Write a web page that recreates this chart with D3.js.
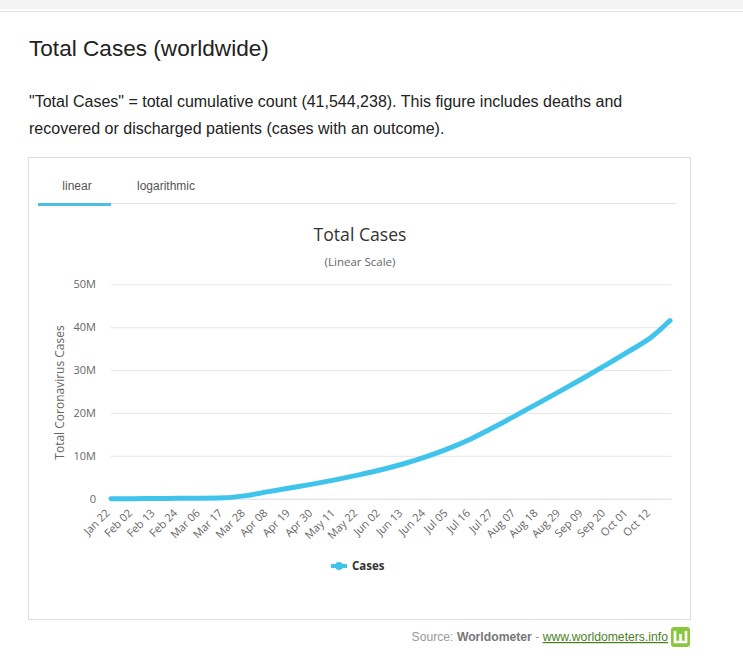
<!DOCTYPE html>
<html>
<head>
<meta charset="utf-8">
<title>Total Cases (worldwide)</title>
<script src="https://cdn.jsdelivr.net/npm/d3@7"></script>
<style>
  body { margin: 0; background: #fff; }
  #page { width: 743px; height: 659px; }
  .chartText { font-family: "Open Sans", "DejaVu Sans", sans-serif; }
  .pageText { font-family: "Liberation Sans", Arial, sans-serif; }
</style>
</head>
<body>
<div id="page"></div>
<script>
// Data (cumulative worldwide cases)
var caseDates = ["Jan 22", "Feb 02", "Feb 13", "Feb 24", "Mar 06", "Mar 17", "Mar 28",
  "Apr 08", "Apr 19", "Apr 30", "May 11", "May 22", "Jun 02", "Jun 13", "Jun 24",
  "Jul 05", "Jul 16", "Jul 27", "Aug 07", "Aug 18", "Aug 29", "Sep 09", "Sep 20",
  "Oct 01", "Oct 12", "Oct 21"];
var caseValues = [580, 17400, 60400, 80200, 101000, 198000, 720000,
  1650000, 2550000, 3450000, 4450000, 5550000, 6750000, 8150000, 9800000,
  11750000, 14000000, 16650000, 19500000, 22350000, 25250000, 28200000, 31250000,
  34400000, 37700000, 41544238];

// Axis tick labels
var xTickLabels = ["Jan 22", "Feb 02", "Feb 13", "Feb 24", "Mar 06", "Mar 17", "Mar 28",
  "Apr 08", "Apr 19", "Apr 30", "May 11", "May 22", "Jun 02", "Jun 13", "Jun 24",
  "Jul 05", "Jul 16", "Jul 27", "Aug 07", "Aug 18", "Aug 29", "Sep 09", "Sep 20",
  "Oct 01", "Oct 12"];
var yTickValues = [0, 10000000, 20000000, 30000000, 40000000, 50000000];

var svgWidth = 743;
var svgHeight = 659;

var plot = {left: 111, right: 670, top: 284.3, bottom: 498.7};

var parseDay = d3.utcParse("%b %d %Y");
function toDate(label) {
  return parseDay(label + " 2020");
}

var caseData = caseDates.map(function(d, i) {
  return {date: toDate(d), cases: caseValues[i]};
});

var svg = d3.select("#page")
  .append("svg")
  .attr("width", svgWidth)
  .attr("height", svgHeight);

// Top strip of the page
svg.append("rect")
  .attr("x", 0).attr("y", 0)
  .attr("width", svgWidth).attr("height", 9)
  .attr("fill", "#f3f3f3");
svg.append("line")
  .attr("x1", 0).attr("x2", svgWidth)
  .attr("y1", 11.5).attr("y2", 11.5)
  .attr("stroke", "#e2e2e2");

// Page heading and description
svg.append("text")
  .attr("class", "pageText")
  .attr("x", 29).attr("y", 56)
  .attr("font-size", "22.6px")
  .attr("fill", "#222")
  .text("Total Cases (worldwide)");

svg.append("text")
  .attr("class", "pageText")
  .attr("x", 29).attr("y", 107)
  .attr("font-size", "16px")
  .attr("fill", "#222")
  .text("\"Total Cases\" = total cumulative count (41,544,238). This figure includes deaths and");

svg.append("text")
  .attr("class", "pageText")
  .attr("x", 29).attr("y", 134)
  .attr("font-size", "16px")
  .attr("fill", "#222")
  .text("recovered or discharged patients (cases with an outcome).");

// Chart box
svg.append("rect")
  .attr("x", 28.5).attr("y", 157.5)
  .attr("width", 662).attr("height", 462)
  .attr("fill", "#fff")
  .attr("stroke", "#dcdcdc");

// Tabs
svg.append("line")
  .attr("x1", 38).attr("x2", 677)
  .attr("y1", 203.5).attr("y2", 203.5)
  .attr("stroke", "#e6e6e6");
svg.append("rect")
  .attr("x", 38).attr("y", 203)
  .attr("width", 73).attr("height", 3)
  .attr("fill", "#4bbfe4");
svg.append("text")
  .attr("class", "pageText")
  .attr("x", 77).attr("y", 190)
  .attr("text-anchor", "middle")
  .attr("font-size", "12px")
  .attr("fill", "#555")
  .text("linear");
svg.append("text")
  .attr("class", "pageText")
  .attr("x", 166).attr("y", 190)
  .attr("text-anchor", "middle")
  .attr("font-size", "12px")
  .attr("fill", "#555")
  .text("logarithmic");

// Chart titles
svg.append("text")
  .attr("class", "chartText")
  .attr("x", 360).attr("y", 241)
  .attr("text-anchor", "middle")
  .attr("font-size", "17.6px")
  .attr("fill", "#333")
  .text("Total Cases");
svg.append("text")
  .attr("class", "chartText")
  .attr("x", 360).attr("y", 266)
  .attr("text-anchor", "middle")
  .attr("font-size", "11.5px")
  .attr("fill", "#666")
  .text("(Linear Scale)");

// Scales
var xTimeScale = d3.scaleUtc()
  .domain([toDate("Jan 22"), toDate("Oct 21")])
  .range([plot.left, plot.right]);

var yLinearScale = d3.scaleLinear()
  .domain([0, 50000000])
  .range([plot.bottom, plot.top]);

// Y gridlines and labels
var leftAxis = d3.axisLeft(yLinearScale)
  .tickValues(yTickValues)
  .tickSize(-(plot.right + 1.5 - plot.left))
  .tickPadding(15)
  .tickFormat(function(v) { return v === 0 ? "0" : (v / 1000000) + "M"; });

var yAxis = svg.append("g")
  .attr("class", "chartText")
  .attr("transform", `translate(${plot.left}, 0)`)
  .call(leftAxis);
yAxis.select(".domain").remove();
yAxis.selectAll(".tick line")
  .attr("stroke", function(v) { return v === 0 ? "#d6dbe3" : "#e6e6e6"; });
yAxis.selectAll(".tick text")
  .attr("font-size", "11px")
  .attr("fill", "#666");

svg.append("text")
  .attr("class", "chartText")
  .attr("transform", `translate(64, ${(plot.top + plot.bottom) / 2 + 1}) rotate(-90)`)
  .attr("text-anchor", "middle")
  .attr("font-size", "12px")
  .attr("fill", "#666")
  .text("Total Coronavirus Cases");

// X axis labels, rotated
var bottomAxis = d3.axisBottom(xTimeScale)
  .tickValues(xTickLabels.map(toDate))
  .tickSize(0)
  .tickFormat(d3.utcFormat("%b %d"));

var xAxis = svg.append("g")
  .attr("class", "chartText")
  .attr("transform", `translate(0, ${plot.bottom})`)
  .call(bottomAxis);
xAxis.select(".domain").remove();
xAxis.selectAll(".tick text")
  .attr("font-size", "11px")
  .attr("fill", "#666")
  .attr("text-anchor", "end")
  .attr("dy", null)
  .attr("y", null)
  .attr("transform", "translate(-1, 15) rotate(-45)");

// Cases line
var caseLine = d3.line()
  .x(d => xTimeScale(d.date))
  .y(d => yLinearScale(d.cases))
  .curve(d3.curveMonotoneX);

svg.append("path")
  .datum(caseData)
  .attr("d", caseLine)
  .attr("fill", "none")
  .attr("stroke", "#40c4ec")
  .attr("stroke-width", 5)
  .attr("stroke-linejoin", "round")
  .attr("stroke-linecap", "round");

// Legend
var legend = svg.append("g")
  .attr("transform", "translate(331, 566)");
legend.append("line")
  .attr("x1", 0).attr("x2", 16)
  .attr("stroke", "#40c4ec")
  .attr("stroke-width", 4);
legend.append("circle")
  .attr("cx", 8).attr("r", 4)
  .attr("fill", "#40c4ec");
legend.append("text")
  .attr("class", "chartText")
  .attr("x", 21).attr("y", 4)
  .attr("font-size", "11.5px")
  .attr("font-weight", "bold")
  .attr("fill", "#333")
  .text("Cases");

// Source line
var source = svg.append("text")
  .attr("class", "pageText")
  .attr("x", 668).attr("y", 641)
  .attr("text-anchor", "end")
  .attr("font-size", "12.2px")
  .attr("fill", "#999");
source.append("tspan").text("Source: ");
source.append("tspan").attr("font-weight", "bold").attr("fill", "#777").text("Worldometer");
source.append("tspan").text(" - ");
source.append("tspan")
  .attr("fill", "#4d7f1f")
  .attr("text-decoration", "underline")
  .text("www.worldometers.info");

// Worldometer badge
svg.append("rect")
  .attr("x", 671).attr("y", 627)
  .attr("width", 19).attr("height", 20)
  .attr("rx", 3)
  .attr("fill", "#8cc63f");
svg.append("path")
  .attr("d", "M675,631 V642 H686 V631 M680.5,634 V642")
  .attr("fill", "none")
  .attr("stroke", "#fff")
  .attr("stroke-width", 2.6);
</script>
</body>
</html>
